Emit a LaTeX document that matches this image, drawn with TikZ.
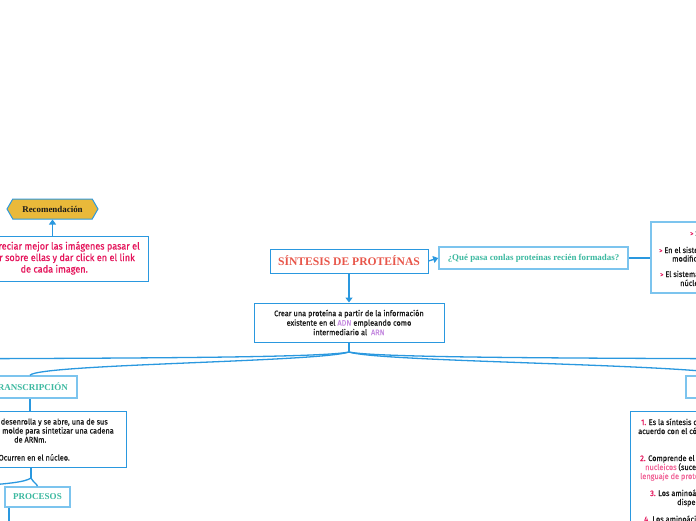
\documentclass[tikz,border=0pt]{standalone}
\usepackage{fontspec}
\setmainfont{Liberation Serif}
\newfontfamily\bodyfont[FakeStretch=0.92,FakeBold=0.6]{Fira Sans}
\usetikzlibrary{arrows.meta,shapes.symbols}
\definecolor{bordblue}{HTML}{2A98DF}
\definecolor{lightblue}{HTML}{7CC4EE}
\definecolor{tealtxt}{HTML}{3CB9A0}
\definecolor{titlered}{HTML}{E8564A}
\definecolor{crimson}{HTML}{E5135A}
\definecolor{pinktxt}{HTML}{F2679A}
\definecolor{purptxt}{HTML}{C58BE0}
\definecolor{goldfill}{HTML}{E9B93A}
\definecolor{darktxt}{HTML}{1A1A1A}
\tikzset{
  box/.style={draw=bordblue, line width=1pt, fill=white, inner sep=0pt},
  lbox/.style={draw=lightblue, line width=1.6pt, fill=white, inner sep=0pt},
  body/.style={font=\bodyfont\fontsize{8}{9.5}\selectfont, text=darktxt, inner sep=0pt},
  redtxt/.style={font=\bodyfont\fontsize{9.9}{11.5}\selectfont, text=crimson, inner sep=0pt},
  head/.style={font=\bfseries\fontsize{9}{10}\selectfont, text=tealtxt},
  conn/.style={draw=bordblue, line width=1.3pt},
  tip/.style={-{Triangle[width=7pt,length=5pt]}},
}
\begin{document}
\begin{tikzpicture}[x=1pt,y=-1pt]
\useasboundingbox (0,0) rectangle (696,520);
% hub lines from main box
\coordinate (hub) at (349,352);
\coordinate (offL) at (-80,359);
\coordinate (offR) at (780,359);
\coordinate (pbranch) at (31,478);
\coordinate (offL2) at (-40,487);
\coordinate (offB) at (9,540);

% nodes
\node[box, minimum width=158, minimum height=24, font=\bfseries\fontsize{11.6}{13}\selectfont, text=titlered] (title) at (349,261) {SÍNTESIS DE PROTEÍNAS};
\node[lbox, minimum width=189, minimum height=22, head, font=\bfseries\fontsize{8.9}{10}\selectfont] (quest) at (533.5,258) {¿Qué pasa conlas proteínas recién formadas?};
\node[lbox, minimum width=150, minimum height=71] (rbox) at (726,257.5) {};
\node[box, minimum width=190, minimum height=39, body, align=center] (main) at (349,322.5) {Crear una proteína a partir de la información\\existente en el \textcolor{purptxt}{ADN} empleando como\\intermediario al \ \textcolor{purptxt}{ARN}};
\node[signal, signal to=west and east, signal pointer angle=120, draw=bordblue, line width=1pt, fill=goldfill, minimum width=91, minimum height=20, inner sep=0pt, font=\bfseries\fontsize{8.9}{10}\selectfont, text=darktxt] (recom) at (52.5,209) {Recomendación};
\node[box, minimum width=181, minimum height=45] (redbox) at (57.5,258.5) {};
\node[lbox, minimum width=94, minimum height=22, head] (trans) at (30,387) {TRANSCRIPCIÓN};
\node[box, minimum width=190, minimum height=56] (tbox) at (31,439) {};
\node[lbox, minimum width=65, minimum height=20, head] (procesos) at (37.5,497) {PROCESOS};
\node[lbox, minimum width=94, minimum height=22, head] (tradu) at (733,387) {TRADUCCIÓN};
\node[box, minimum width=200, minimum height=150] (tbox2) at (730,486) {};

% red recommendation text
\node[redtxt, anchor=base east] (r1) at (140,249.5) {Para apreciar mejor las imágenes pasar el};
\node[redtxt, anchor=base east] (r2) at (135,261) {cursor sobre ellas y dar click en el link};
\node[redtxt, anchor=base east] (r3) at (88,272.5) {de cada imagen.};

% transcription text
\node[body, anchor=base east] (t1) at (108,424.5) {El ADN se desenrolla y se abre, una de sus};
\node[body, anchor=base east] (t2) at (114,433.5) {cadenas sirven de molde para sintetizar una cadena};
\node[body, anchor=base west] (t3) at (14,442.5) {de ARNm.};
\node[body, anchor=base east] (t4) at (70,460.5) {Ocurren en el núcleo.};

% upper right box text
\node[body, anchor=base west] (u1) at (690,236) {\textcolor{crimson}{\scriptsize >} Se pliegan};
\node[body, anchor=base west] (u2) at (659,253) {\textcolor{crimson}{\scriptsize >} En el sistema de endomembranas se};
\node[body, anchor=base west] (u3) at (672,261.5) {modifican y transportan};
\node[body, anchor=base west] (u4) at (660,277) {\textcolor{crimson}{\scriptsize >} El sistema de transporte hacia el};
\node[body, anchor=base west] (u5) at (680,286) {núcleo};

% translation text
\node[body, anchor=base west] (v1) at (641,425) {\textcolor{crimson}{1.} Es la síntesis de proteínas de};
\node[body, anchor=base west] (v2) at (638,434) {acuerdo con el código genético};
\node[body, anchor=base west] (v3) at (640,461) {\textcolor{crimson}{2.} Comprende el paso del lenguaje};
\node[body, anchor=base west] (v4) at (645,470) {\textcolor{pinktxt}{nucleicos} (sucesión de nucleótidos)};
\node[body, anchor=base west] (v5) at (640,479) {\textcolor{pinktxt}{lenguaje de proteínas}};
\node[body, anchor=base west] (v6) at (650,496) {\textcolor{crimson}{3.} Los aminoácidos se encuentran};
\node[body, anchor=base west] (v7) at (677,505) {dispersos};
\node[body, anchor=base west] (v8) at (644,522) {\textcolor{crimson}{4.} Los aminoácidos};

% connectors
\draw[conn, tip] (recom.south |- redbox.north) -- (recom.south);
\draw[conn, tip] (title.east) -- (quest.west);
\draw[conn] (quest.east) -- (rbox.west |- quest.east);
\draw[conn, tip] (title.south) -- (main.north);
\draw[conn] (main.south) -- (hub);
\draw[conn] (hub) .. controls (320,358) and (120,358) .. (offL);
\draw[conn] (hub) .. controls (320,362) and (40,364) .. (trans.north);
\draw[conn] (hub) .. controls (378,358) and (580,358) .. (offR);
\draw[conn] (hub) .. controls (378,362) and (690,364) .. (tradu.north);
\draw[conn] (trans.south) -- (trans.south |- tbox.north);
\draw[conn] (pbranch |- tbox.south) -- (pbranch);
\draw[conn] (pbranch) .. controls (25,482) and (10,484) .. (offL2);
\draw[conn] (pbranch) .. controls (33,482) and (37,484) .. (procesos.north);
\draw[conn] (offB |- procesos.south) -- (offB);
\end{tikzpicture}
\end{document}
